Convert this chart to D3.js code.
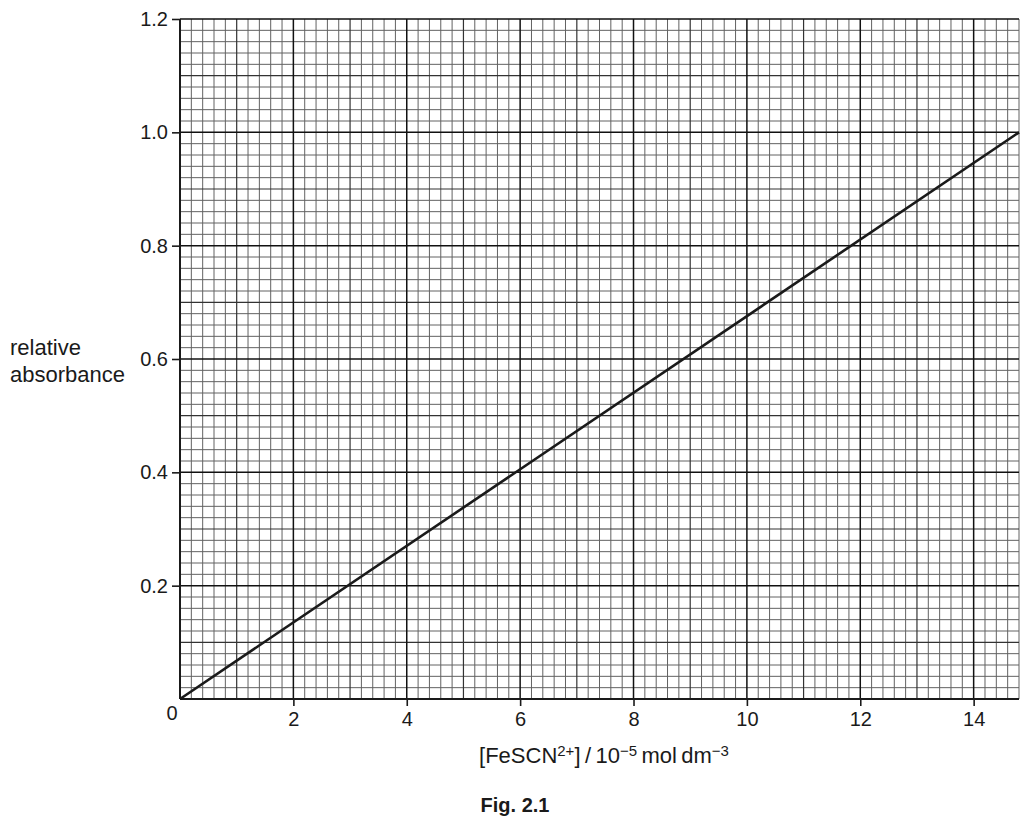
<!DOCTYPE html>
<html>
<head>
<meta charset="utf-8">
<script src="https://cdn.jsdelivr.net/npm/d3@7"></script>
<style>
  html, body { margin: 0; padding: 0; background: #fff; }
  svg { display: block; font-family: 'Liberation Sans', Arial, sans-serif; }
</style>
</head>
<body>
<div id="chart"></div>
<script>
// calibration line
const concentration = [0, 14.8];
const absorbance = [0, 1.0];

// tick labels
const xTicks = [2, 4, 6, 8, 10, 12, 14];
const yTicks = [0.2, 0.4, 0.6, 0.8, 1.0, 1.2];

const width = 1034, height = 839;
const ink = '#1a1a1a';

const svg = d3.select('#chart').append('svg')
  .attr('width', width)
  .attr('height', height);

const x = d3.scaleLinear().domain([0, 14.8]).range([180, 1019]);
const y = d3.scaleLinear().domain([0, 1.2]).range([699, 19]);

const grid = svg.append('g');

// graph paper: minor every 0.2 / 0.02, medium every 1 / 0.1, major every 2 / 0.2
const xs = d3.range(0, 75).map(i => i * 0.2);
const ys = d3.range(0, 61).map(i => i * 0.02);

const styles = [
  { c: '#626262', w: 1 },    // minor
  { c: '#333', w: 1.2 },     // medium
  { c: '#111', w: 1.5 }      // major
];
const levelOf = i => (i % 10 === 0 ? 2 : (i % 5 === 0 ? 1 : 0));

// minor first, darker lines on top
[0, 1, 2].forEach(level => {
  const s = styles[level];
  xs.forEach((v, i) => {
    if (levelOf(i) !== level) return;
    grid.append('line')
      .attr('x1', x(v)).attr('x2', x(v))
      .attr('y1', y(0)).attr('y2', y(1.2))
      .attr('stroke', s.c).attr('stroke-width', s.w);
  });
  ys.forEach((v, i) => {
    if (levelOf(i) !== level) return;
    grid.append('line')
      .attr('x1', x(0)).attr('x2', x(14.8))
      .attr('y1', y(v)).attr('y2', y(v))
      .attr('stroke', s.c).attr('stroke-width', s.w);
  });
});

// axes
const xAxis = d3.axisBottom(x).tickValues(xTicks).tickSize(7).tickPadding(6)
  .tickFormat(d3.format('d'));
const yAxis = d3.axisLeft(y).tickValues(yTicks).tickSize(8).tickPadding(4)
  .tickFormat(d3.format('.1f'));

const gx = svg.append('g').attr('transform', `translate(0,${y(0)})`).call(xAxis);
const gy = svg.append('g').attr('transform', `translate(${x(0)},0)`).call(yAxis);

[gx, gy].forEach(g => {
  g.select('.domain').remove();
  g.selectAll('.tick line').attr('stroke', ink).attr('stroke-width', 1.6);
  g.selectAll('.tick text').attr('fill', ink).attr('font-size', 20)
    .attr('font-family', "'Liberation Sans', Arial, sans-serif");
});

// axis lines
svg.append('line')
  .attr('x1', x(0)).attr('x2', x(14.8)).attr('y1', y(0)).attr('y2', y(0))
  .attr('stroke', ink).attr('stroke-width', 2);
svg.append('line')
  .attr('x1', x(0)).attr('x2', x(0)).attr('y1', y(0)).attr('y2', y(1.2))
  .attr('stroke', ink).attr('stroke-width', 2);

// origin label
svg.append('text')
  .attr('x', x(0) - 8).attr('y', y(0) + 21)
  .attr('text-anchor', 'middle')
  .attr('font-size', 20).attr('fill', ink)
  .text('0');

// the line
const data = concentration.map((c, i) => [c, absorbance[i]]);
svg.append('path')
  .datum(data)
  .attr('fill', 'none')
  .attr('stroke', ink)
  .attr('stroke-width', 2.6)
  .attr('d', d3.line().x(d => x(d[0])).y(d => y(d[1])));

// y label
const yl = svg.append('text')
  .attr('font-size', 22).attr('fill', ink);
yl.append('tspan').attr('x', 10).attr('y', 355).text('relative');
yl.append('tspan').attr('x', 10).attr('y', 382).text('absorbance');

// x label with superscripts
const xl = svg.append('text')
  .attr('x', 604).attr('y', 763)
  .attr('text-anchor', 'middle')
  .attr('font-size', 22).attr('fill', ink);
xl.append('tspan').text('[FeSCN');
xl.append('tspan').attr('dy', -7).attr('font-size', 15).text('2+');
xl.append('tspan').attr('dy', 7).text(']\u2009/\u200910');
xl.append('tspan').attr('dy', -7).attr('font-size', 15).text('\u22125');
xl.append('tspan').attr('dy', 7).text('\u2009mol\u2009dm');
xl.append('tspan').attr('dy', -7).attr('font-size', 15).text('\u22123');

// caption
svg.append('text')
  .attr('x', 515).attr('y', 812)
  .attr('text-anchor', 'middle')
  .attr('font-size', 20).attr('font-weight', 'bold').attr('fill', ink)
  .text('Fig. 2.1');
</script>
</body>
</html>
